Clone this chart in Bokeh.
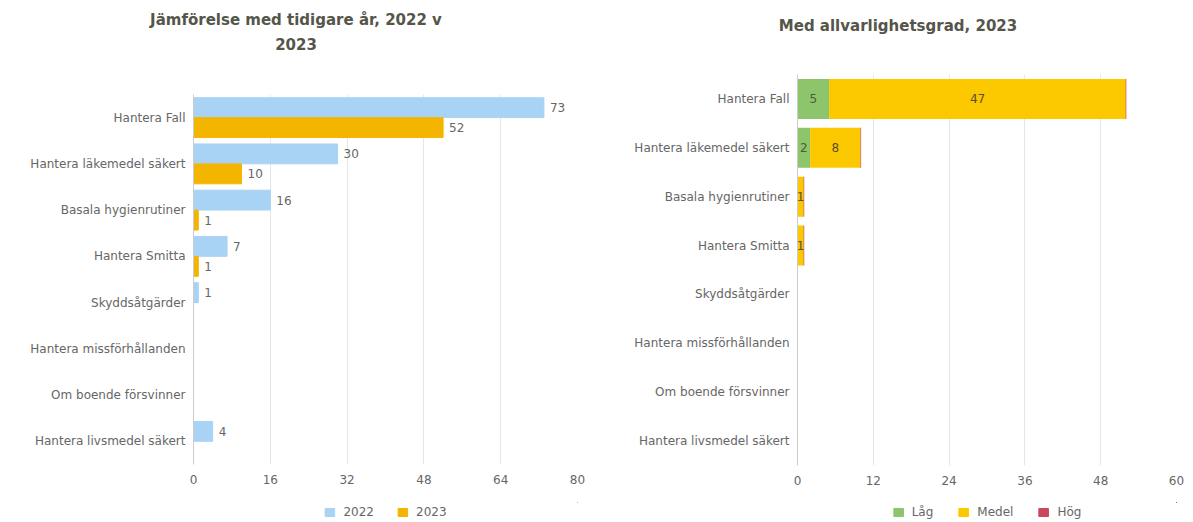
from bokeh.plotting import figure
from bokeh.models import (FactorRange, ColumnDataSource, Legend, LegendItem, Div,
                          Range1d, FixedTicker, CDSView, BooleanFilter)
from bokeh.transform import dodge
from bokeh.layouts import row, column
from bokeh.core.properties import value
from bokeh.embed import file_html
from bokeh.resources import INLINE

# ---------------- data ----------------
categories = ["Hantera Fall", "Hantera läkemedel säkert", "Basala hygienrutiner",
              "Hantera Smitta", "Skyddsåtgärder", "Hantera missförhållanden",
              "Om boende försvinner", "Hantera livsmedel säkert"]
values_2022 = [73, 30, 16, 7, 1, 0, 0, 4]
values_2023 = [52, 10, 1, 1, 0, 0, 0, 0]
left_ticks = [0, 16, 32, 48, 64, 80]

sev_lag = [5, 2, 0, 0, 0, 0, 0, 0]
sev_medel = [47, 8, 1, 1, 0, 0, 0, 0]
sev_hog = [0, 0, 0, 0, 0, 0, 0, 0]
right_ticks = [0, 12, 24, 36, 48, 60]

left_title = ["Jämförelse med tidigare år, 2022 v", "2023"]
right_title = ["Med allvarlighetsgrad, 2023"]
series_left = ["2022", "2023"]
series_right = ["Låg", "Medel", "Hög"]

# ---------------- style ----------------
FONT = "DejaVu Sans"
C22 = "#a9d3f5"
C23 = "#f4b500"
CLAG = "#8cc56b"
CMED = "#fcc800"
CHOG = "#c9485b"
TXT = "#666666"
TITLE_C = "#55554a"
GRID = "#e6e6e6"


def style(p, ticks):
    p.outline_line_color = None
    p.ygrid.grid_line_color = None
    p.xgrid.ticker = FixedTicker(ticks=ticks)
    p.xgrid.grid_line_color = GRID
    p.xaxis.ticker = FixedTicker(ticks=ticks)
    p.xaxis.axis_line_color = None
    p.xaxis.major_tick_line_color = None
    p.xaxis.minor_tick_line_color = None
    p.xaxis.major_tick_out = 0
    p.xaxis.major_label_standoff = 10
    p.yaxis.axis_line_color = "#cccccc"
    p.yaxis.major_tick_line_color = None
    p.yaxis.major_tick_out = 0
    p.yaxis.major_label_standoff = 8
    for ax in (p.xaxis, p.yaxis):
        ax.major_label_text_font = FONT
        ax.major_label_text_font_size = "12px"
        ax.major_label_text_color = TXT


def text_kw():
    return dict(text_font=value(FONT), text_font_size="12px", text_baseline="middle")


def title_div(lines, width, inner_width, pad_top):
    html = ('<div style="width:%dpx;text-align:center;font-family:\'DejaVu Sans\';'
            'font-weight:bold;font-size:15px;line-height:25px;color:%s;'
            'padding-top:%dpx">%s</div>' % (inner_width, TITLE_C, pad_top,
                                               "<br>".join(lines)))
    return Div(text=html, width=width, height=60, margin=0)


def legend_fig(width, left, right, names, colors, cols, source, spacing):
    # the series' own data lies outside this strip's ranges, so only the legend shows
    f = figure(width=width, height=30, x_range=Range1d(-2, -1), y_range=Range1d(-2, -1),
               output_backend="svg", toolbar_location=None, x_axis_location=None,
               y_axis_location=None, min_border_left=left, min_border_right=right,
               min_border_top=10, min_border_bottom=0)
    f.outline_line_color = None
    f.grid.visible = False
    rends = [f.hbar(y=c, left=c, right=c, height=0.5, color=col, source=source)
             for c, col in zip(cols, colors)]
    f.add_layout(Legend(items=[LegendItem(label=n, renderers=[r], index=0)
                               for n, r in zip(names, rends)],
                        orientation="horizontal", location="center",
                        border_line_color=None, background_fill_alpha=0,
                        label_text_font=FONT, label_text_font_size="12px",
                        label_text_color=TXT, glyph_width=12, glyph_height=10,
                        label_standoff=8, spacing=spacing, padding=0, margin=0))
    return f


# ---------------- left chart ----------------
p1 = figure(width=596, height=432, y_range=FactorRange(*reversed(categories)),
            x_range=Range1d(0, 80), output_backend="svg", toolbar_location=None,
            min_border_left=193, min_border_right=19, min_border_top=34,
            min_border_bottom=28)
style(p1, left_ticks)

src1 = ColumnDataSource(dict(
    cat=categories, v22=values_2022, v23=values_2023,
    t22=[str(v) for v in values_2022], t23=[str(v) for v in values_2023]))

p1.hbar(y=dodge("cat", 0.216, range=p1.y_range), right="v22", height=0.43,
        color=C22, source=src1)
p1.hbar(y=dodge("cat", -0.216, range=p1.y_range), right="v23", height=0.43,
        color=C23, source=src1)
for vals, xcol, tcol, off in ((values_2022, "v22", "t22", 0.216),
                              (values_2023, "v23", "t23", -0.216)):
    view = CDSView(filter=BooleanFilter([v > 0 for v in vals]))
    p1.text(x=xcol, y=dodge("cat", off, range=p1.y_range), text=tcol, x_offset=6,
            text_color=TXT, source=src1, view=view, **text_kw())

left_block = column(title_div(left_title, 596, 592, 8), p1,
                    legend_fig(596, 193, 19, series_left, [C22, C23], ["v22", "v23"],
                               src1, 22))

# ---------------- right chart ----------------
p2 = figure(width=597, height=432, y_range=FactorRange(*reversed(categories)),
            x_range=Range1d(0, 60), output_backend="svg", toolbar_location=None,
            min_border_left=201, min_border_right=17, min_border_top=14,
            min_border_bottom=27)
style(p2, right_ticks)

src2 = ColumnDataSource(dict(
    cat=categories, lag=sev_lag, medel=sev_medel, hog=sev_hog,
    mlag=[v / 2 for v in sev_lag],
    mmed=[l + m / 2 for l, m in zip(sev_lag, sev_medel)],
    tlag=[str(v) for v in sev_lag],
    tmed=[str(v) for v in sev_medel]))

p2.hbar_stack(["lag", "medel", "hog"], y="cat", height=0.82,
              fill_color=[CLAG, CMED, CHOG], line_color=[None, None, CHOG],
              line_alpha=0.35, source=src2)
p2.text(x="mlag", y="cat", text="tlag", text_color="#4f5a3f", text_align="center",
        source=src2, view=CDSView(filter=BooleanFilter([v > 0 for v in sev_lag])),
        **text_kw())
p2.text(x="mmed", y="cat", text="tmed", text_color="#5a4f2a", text_align="center",
        source=src2, view=CDSView(filter=BooleanFilter([v > 0 for v in sev_medel])),
        **text_kw())

right_block = column(title_div(right_title, 597, 604, 14), p2,
                     legend_fig(597, 201, 17, series_right, [CLAG, CMED, CHOG],
                                ["lag", "medel", "hog"], src2, 24))

layout = row(left_block, right_block)
open("out.html", "w").write(file_html(layout, INLINE))
